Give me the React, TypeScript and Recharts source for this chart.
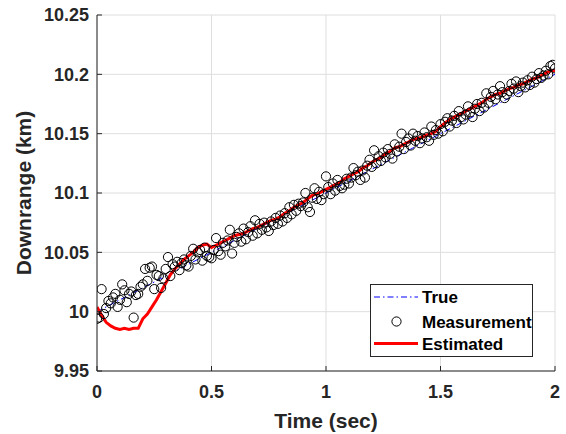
import {
  ComposedChart,
  Line,
  Scatter,
  XAxis,
  YAxis,
  CartesianGrid,
  Legend,
  Label,
} from "recharts";

// tick labels
const xTicks = [0, 0.5, 1, 1.5, 2];
const yTicks = [9.95, 10, 10.05, 10.1, 10.15, 10.2, 10.25];

// true trajectory (straight line)
const trueTime = [0, 2];
const trueValue = [10, 10.2];

// measurements, one every 0.01 s from 0 to 2
const measStep = 0.01;
const measured = [
  9.994, 9.995, 10.019, 9.998, 10.003, 10.009, 10.007, 10.012, 10.015, 10.004,
  10.010, 10.023, 10.018, 10.008, 10.015, 10.017, 9.995, 10.014, 10.015, 10.021,
  10.023, 10.036, 10.026, 10.037, 10.038, 10.019, 10.031, 10.030, 10.020, 10.028,
  10.036, 10.046, 10.030, 10.040, 10.038, 10.042, 10.035, 10.041, 10.044, 10.039,
  10.038, 10.047, 10.053, 10.044, 10.050, 10.052, 10.043, 10.054, 10.047, 10.046,
  10.045, 10.052, 10.062, 10.051, 10.048, 10.058, 10.055, 10.060, 10.069, 10.049,
  10.058, 10.063, 10.066, 10.059, 10.070, 10.061, 10.067, 10.072, 10.064, 10.077,
  10.066, 10.074, 10.069, 10.075, 10.071, 10.068, 10.076, 10.073, 10.079, 10.074,
  10.081, 10.076, 10.083, 10.079, 10.088, 10.082, 10.090, 10.085, 10.091, 10.089,
  10.092, 10.100, 10.088, 10.084, 10.096, 10.104, 10.095, 10.101, 10.094, 10.099,
  10.114, 10.105, 10.099, 10.108, 10.102, 10.111, 10.106, 10.104, 10.107, 10.112,
  10.108, 10.113, 10.121, 10.115, 10.118, 10.111, 10.119, 10.113, 10.123, 10.128,
  10.122, 10.136, 10.125, 10.131, 10.127, 10.134, 10.130, 10.137, 10.133, 10.129,
  10.141, 10.135, 10.139, 10.150, 10.137, 10.143, 10.146, 10.140, 10.150, 10.144,
  10.148, 10.142, 10.146, 10.151, 10.147, 10.144, 10.156, 10.149, 10.153, 10.150,
  10.158, 10.152, 10.160, 10.163, 10.156, 10.161, 10.165, 10.159, 10.169, 10.164,
  10.162, 10.166, 10.173, 10.168, 10.164, 10.171, 10.175, 10.169, 10.176, 10.172,
  10.184, 10.176, 10.181, 10.186, 10.179, 10.183, 10.190, 10.185, 10.180, 10.183,
  10.186, 10.192, 10.188, 10.194, 10.185, 10.190, 10.193, 10.189, 10.195, 10.191,
  10.198, 10.193, 10.196, 10.201, 10.197, 10.199, 10.203, 10.200, 10.207, 10.208,
  10.205,
];

// filter estimate, one every 0.02 s from 0 to 2
const estStep = 0.02;
const estimated = [
  10.004, 9.997, 9.991, 9.988, 9.986, 9.985, 9.986, 9.985, 9.986, 9.986,
  9.994, 9.998, 10.004, 10.010, 10.017, 10.024, 10.031, 10.036, 10.040, 10.044,
  10.047, 10.050, 10.054, 10.056, 10.057, 10.054, 10.056, 10.058, 10.060, 10.062,
  10.064, 10.065, 10.066, 10.068, 10.070, 10.071, 10.073, 10.075, 10.077, 10.078,
  10.080, 10.083, 10.085, 10.088, 10.090, 10.092, 10.095, 10.098, 10.099, 10.101,
  10.103, 10.105, 10.107, 10.109, 10.112, 10.114, 10.116, 10.118, 10.121, 10.123,
  10.126, 10.128, 10.130, 10.133, 10.135, 10.138, 10.139, 10.141, 10.143, 10.145,
  10.146, 10.147, 10.149, 10.150, 10.152, 10.156, 10.159, 10.162, 10.164, 10.166,
  10.168, 10.170, 10.172, 10.174, 10.176, 10.179, 10.181, 10.183, 10.184, 10.186,
  10.188, 10.189, 10.191, 10.192, 10.194, 10.196, 10.197, 10.199, 10.201, 10.203,
  10.203,
];

const trueData = trueTime.map((t, i) => ({ t, v: trueValue[i] }));
const measData = measured.map((v, i) => ({ t: +(i * measStep).toFixed(2), v }));
const estData = estimated.map((v, i) => ({ t: +(i * estStep).toFixed(2), v }));

const FONT = '"Liberation Sans", Arial, Helvetica, sans-serif';
const AXIS = "#262626";
const tickStyle = { fill: AXIS, fontSize: 18, fontWeight: 700, fontFamily: FONT };

const OpenCircle = (props: { cx?: number; cy?: number }) => (
  <circle cx={props.cx} cy={props.cy} r={4.6} fill="none" stroke="#000" strokeWidth={1} />
);

const LegendBox = () => (
  <svg width={163} height={73} style={{ display: "block" }}>
    <rect x={0.5} y={0.5} width={162} height={72} fill="#fff" stroke={AXIS} strokeWidth={1} />
    <line x1={4} x2={48} y1={13} y2={13} stroke="#0000ff" strokeWidth={1} strokeDasharray="6 3 1.5 3" />
    <circle cx={26.5} cy={37.5} r={4.6} fill="none" stroke="#000" strokeWidth={1} />
    <line x1={4} x2={48} y1={59.5} y2={59.5} stroke="#ff0000" strokeWidth={3} />
    <g fontFamily={FONT} fontSize={17} fontWeight={700} fill="#000">
      <text x={52} y={19}>True</text>
      <text x={52} y={43.5}>Measurement</text>
      <text x={52} y={65.5}>Estimated</text>
    </g>
  </svg>
);

export default function App() {
  return (
    <div style={{ position: "absolute", left: 0, top: 0, width: 566, height: 434, background: "#fff" }}>
      <ComposedChart width={566} height={434} margin={{ top: 15, right: 11, left: 0, bottom: 0 }}>
        <CartesianGrid stroke="#dedede" strokeWidth={1} />
        <XAxis
          dataKey="t"
          type="number"
          domain={[0, 2]}
          ticks={xTicks}
          allowDataOverflow
          interval={0}
          height={63}
          tickSize={-5}
          tickMargin={19}
          stroke={AXIS}
          tick={tickStyle}
        >
          <Label
            value="Time (sec)"
            position="insideBottom"
            offset={6}
            style={{ fill: AXIS, fontSize: 21, fontWeight: 700, fontFamily: FONT }}
          />
        </XAxis>
        <XAxis
          xAxisId="top"
          orientation="top"
          dataKey="t"
          type="number"
          domain={[0, 2]}
          ticks={xTicks}
          allowDataOverflow
          height={0}
          tickSize={-5}
          tick={false}
          stroke={AXIS}
        />
        <YAxis
          type="number"
          domain={[9.95, 10.25]}
          ticks={yTicks}
          allowDataOverflow
          interval={0}
          width={97}
          tickSize={-5}
          tickMargin={13}
          stroke={AXIS}
          tick={tickStyle}
        >
          <Label
            value="Downrange (km)"
            angle={-90}
            position="insideLeft"
            offset={24}
            textAnchor="middle"
            style={{ fill: AXIS, fontSize: 21, fontWeight: 700, fontFamily: FONT, textAnchor: "middle" }}
          />
        </YAxis>
        <YAxis
          yAxisId="right"
          orientation="right"
          type="number"
          domain={[9.95, 10.25]}
          ticks={yTicks}
          allowDataOverflow
          width={0}
          tickSize={-5}
          tick={false}
          stroke={AXIS}
        />
        <Line
          data={trueData}
          dataKey="v"
          name="True"
          stroke="#0000ff"
          strokeWidth={1}
          strokeDasharray="6 3 1.5 3"
          dot={false}
          isAnimationActive={false}
        />
        <Scatter
          data={measData}
          dataKey="v"
          name="Measurement"
          shape={OpenCircle}
          isAnimationActive={false}
        />
        <Line
          data={estData}
          dataKey="v"
          name="Estimated"
          stroke="#ff0000"
          strokeWidth={3}
          dot={false}
          isAnimationActive={false}
        />
        <Legend
          layout="horizontal"
          verticalAlign="middle"
          align="center"
          content={<LegendBox />}
          wrapperStyle={{ left: 370, top: 284, width: 163, height: 73 }}
        />
      </ComposedChart>
    </div>
  );
}
